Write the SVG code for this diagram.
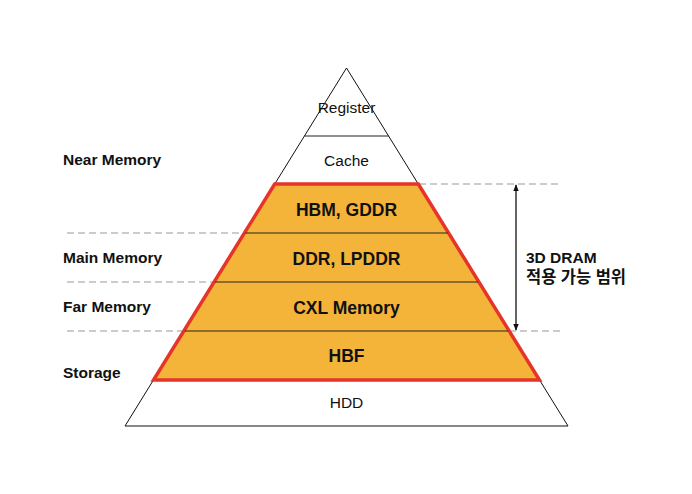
<svg xmlns="http://www.w3.org/2000/svg" width="692" height="494" viewBox="0 0 692 494">
<defs>
<style>
.lbl{font-family:"Liberation Sans",Arial,sans-serif;font-size:15.5px;font-weight:bold;fill:#111}
.reg{font-family:"Liberation Sans",Arial,sans-serif;font-size:15.5px;fill:#111;text-anchor:middle}
.bold{font-family:"Liberation Sans",Arial,sans-serif;font-size:17.5px;font-weight:bold;fill:#111;text-anchor:middle}
.kr{font-family:"Liberation Sans","Noto Sans CJK KR",sans-serif;font-size:16.5px;font-weight:bold;fill:#111}
.dash{stroke:#9a9a9a;stroke-width:1.2;stroke-dasharray:7 4;fill:none}
.div{stroke:#222;stroke-width:1;fill:none}
</style>
<marker id="ah" viewBox="0 0 10 10" refX="9" refY="5" markerWidth="7" markerHeight="7" orient="auto-start-reverse" markerUnits="userSpaceOnUse">
<path d="M0,1 L10,5 L0,9 z" fill="#111"/>
</marker>
</defs>
<rect width="692" height="494" fill="#fff"/>

<g id="guides">
<line class="dash" x1="419" y1="184" x2="562" y2="184"/>
<line class="dash" x1="509" y1="331" x2="562" y2="331"/>
<line class="dash" x1="67" y1="233" x2="244" y2="233"/>
<line class="dash" x1="67" y1="282" x2="214" y2="282"/>
<line class="dash" x1="67" y1="331" x2="184" y2="331"/>
</g>

<g id="pyramid-outline">
<polygon points="346.5,68 568,426 125,426" fill="#fff" stroke="#111" stroke-width="1"/>
</g>

<g id="register">
<text class="reg" x="346.5" y="113">Register</text>
</g>
<g id="cache">
<line class="div" x1="304.4" y1="136" x2="388.6" y2="136"/>
<text class="reg" x="346.5" y="166">Cache</text>
</g>

<g id="dram-range">
<polygon points="274.7,184 418.3,184 539.5,380 153.5,380" fill="#F4B43A" stroke="#E5352A" stroke-width="3.5" stroke-linejoin="miter"/>
</g>
<g id="hbm-gddr">
<text class="bold" x="346.5" y="216">HBM, GDDR</text>
</g>
<g id="ddr-lpddr">
<line class="div" x1="245.5" y1="233" x2="447.5" y2="233"/>
<text class="bold" x="346.5" y="265">DDR, LPDDR</text>
</g>
<g id="cxl-memory">
<line class="div" x1="215.2" y1="282" x2="477.8" y2="282"/>
<text class="bold" x="346.5" y="314">CXL Memory</text>
</g>
<g id="hbf">
<line class="div" x1="184.9" y1="331" x2="508.1" y2="331"/>
<text class="bold" x="346.5" y="362">HBF</text>
</g>
<g id="hdd">
<text class="reg" x="346.5" y="408">HDD</text>
</g>

<g id="tier-labels">
<text class="lbl" x="63" y="165">Near Memory</text>
<text class="lbl" x="63" y="263">Main Memory</text>
<text class="lbl" x="63" y="312">Far Memory</text>
<text class="lbl" x="63" y="378">Storage</text>
</g>

<g id="connectors">
<line x1="516" y1="185" x2="516" y2="330" stroke="#111" stroke-width="1.3" marker-start="url(#ah)" marker-end="url(#ah)"/>
</g>

<g id="range-label">
<text class="lbl" x="526" y="263">3D DRAM</text>
<text class="kr" x="526" y="283" textLength="100" lengthAdjust="spacing">적용 가능 범위</text>
</g>
</svg>
